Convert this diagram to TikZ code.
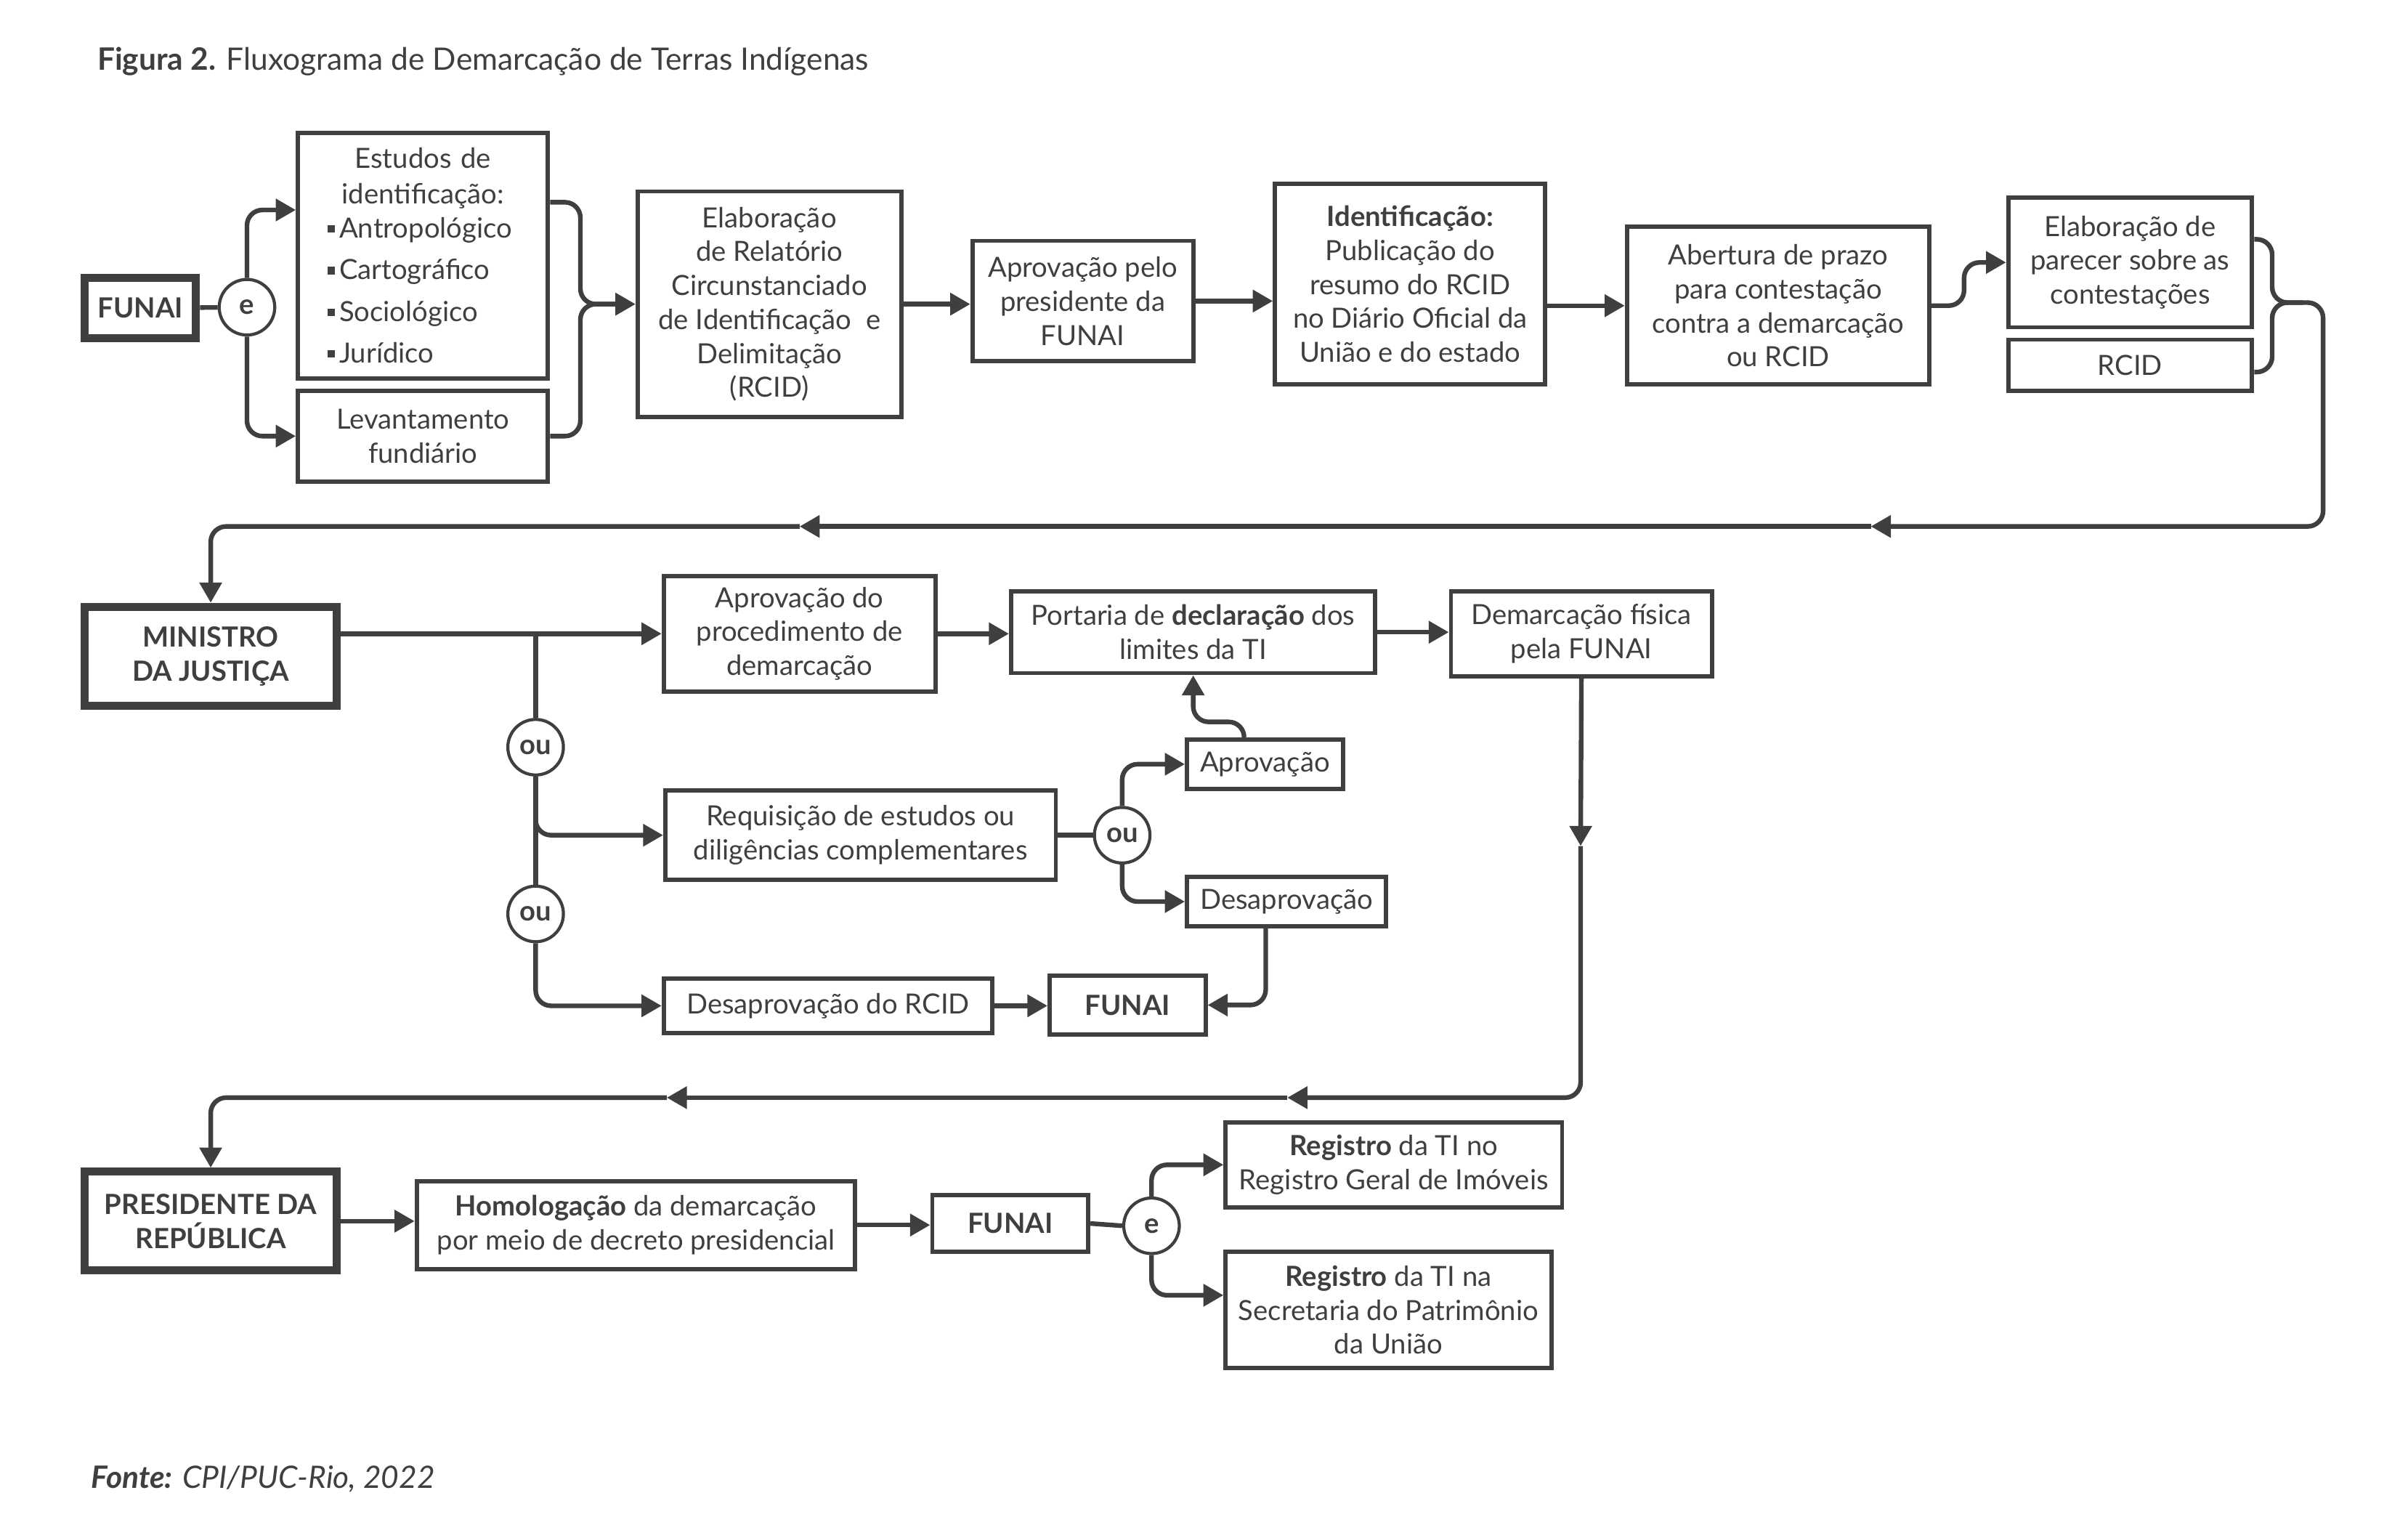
\documentclass[tikz,border=0pt]{standalone}
\usepackage{fontspec}
\setmainfont{Lato}
\usetikzlibrary{arrows.meta}
\definecolor{ink}{RGB}{62,64,64}
\newcommand{\tibul}{\raisebox{1.7pt}{\rule{2.4pt}{2.4pt}}\,}

\begin{document}
\begin{tikzpicture}[x=0.5pt, y=-0.5pt, >={Triangle[length=6.5pt,width=7pt]},
    every node/.style={text=ink, font=\fontsize{9}{11}\selectfont},
    box/.style={draw=ink, line width=1.4pt, align=center, inner sep=1pt},
    bigbox/.style={box, line width=2.6pt, font=\fontsize{9}{11}\selectfont\bfseries},
    gate/.style={draw=ink, line width=1pt, circle, minimum size=18pt, inner sep=0pt, font=\fontsize{9}{11}\selectfont\bfseries},
    conn/.style={draw=ink, line width=1.5pt, rounded corners=5pt},
    arr/.style={conn, ->}]
    \useasboundingbox (0,0) rectangle (1560,991);
    \node[anchor=west, font=\fontsize{10}{12}\selectfont] (title) at (56,40) {\textbf{Figura 2.} Fluxograma de Demarcação de Terras Indígenas};

    % first row
    \node[bigbox, minimum width=36pt, minimum height=19.5pt] (funai1) at (91,199.5) {FUNAI};
    \node[gate] (e1) at (160,199) {e};
    \node[box, minimum width=81pt, minimum height=79.5pt, text width=62pt, align=left] (estudos) at (274,165.5)
        {{\centering Estudos de\\[0.5pt]identificação:\par}\mbox{\tibul Antropológico}\\[2.5pt]\mbox{\tibul Cartográfico}\\[2.5pt]\mbox{\tibul Sociológico}\\[2.5pt]\mbox{\tibul Jurídico}};
    \node[box, minimum width=81pt, minimum height=29.5pt] (lev) at (274,282.5) {Levantamento\\fundiário};
    \node[box, minimum width=85.5pt, minimum height=73pt] (rcid) at (498.5,197)
        {Elaboração\\de Relatório\\Circunstanciado\\de Identificação\ \ e\\Delimitação\\(RCID)};
    \node[box, minimum width=71.5pt, minimum height=39pt] (aprov) at (701.5,195) {Aprovação pelo\\presidente da\\FUNAI};
    \node[box, minimum width=87.5pt, minimum height=65pt] (ident) at (913.5,184)
        {\textbf{Identificação:}\\Publicação do\\resumo do RCID\\no Diário Oficial da\\União e do estado};
    \node[box, minimum width=98pt, minimum height=51pt] (abert) at (1152,198)
        {Abertura de prazo\\para contestação\\contra a demarcação\\ou RCID};
    \node[box, minimum width=79pt, minimum height=42pt] (parecer) at (1380,170) {Elaboração de\\parecer sobre as\\contestações};
    \node[box, minimum width=79pt, minimum height=16.5pt] (rcid2) at (1380,236.5) {RCID};

    \coordinate (m1) at (376,197);
    \coordinate (m2) at (1472,196);
    \coordinate (c1) at (1505,341);
    \coordinate (a1) at (1212,341);
    \coordinate (a2) at (518,341);

    \draw[conn] (funai1) -- (e1);
    \draw[arr] (e1.north) |- ([yshift=14.75pt]estudos.west);
    \draw[arr] (e1.south) |- (lev.west);
    \draw[arr] ([yshift=17.25pt]estudos.east) -| (m1) -- (rcid.west);
    \draw[arr] (lev.east) -| (m1) -- (rcid.west);
    \draw[arr] (rcid.east) -- (rcid.east -| aprov.west);
    \draw[arr] (aprov.east) -- (aprov.east -| ident.west);
    \draw[arr] (ident.east |- abert.west) -- (abert.west);
    \draw[arr] (abert.east) -- ++(21,0) |- (parecer.west);
    \draw[arr] ([yshift=7.5pt]parecer.east) -| (m2) -| (c1) -- (a1);
    \draw[conn] ([yshift=-2.25pt]rcid2.east) -| (m2) -- ++(20,0);
    \draw[arr] (a1) -- (a2);

    % second row
    \node[bigbox, minimum width=81.5pt, minimum height=32pt] (ministro) at (136.5,425) {MINISTRO\\DA JUSTIÇA};
    \node[box, minimum width=88pt, minimum height=37.5pt] (aprovproc) at (518,410.5) {Aprovação do\\procedimento de\\demarcação};
    \node[box, minimum width=118pt, minimum height=26.5pt] (portaria) at (773,409.5) {Portaria de \textbf{declaração} dos\\limites da TI};
    \node[box, minimum width=84.5pt, minimum height=27.5pt] (demfis) at (1024.5,410.5) {Demarcação física\\pela FUNAI};
    \node[gate] (ou1) at (347,484) {ou};
    \node[gate] (ou2) at (347,592) {ou};
    \node[box, minimum width=126.5pt, minimum height=29pt] (req) at (557.5,541) {Requisição de estudos ou\\diligências complementares};
    \node[gate] (ou3) at (727,541) {ou};
    \node[box, minimum width=50.5pt, minimum height=16pt] (aprovsm) at (819.5,495) {Aprovação};
    \node[box, minimum width=64.5pt, minimum height=16pt] (desap) at (833.5,584) {Desaprovação};
    \node[box, minimum width=106.5pt, minimum height=17.5pt] (desrcid) at (536.5,651.5) {Desaprovação do RCID};
    \node[box, minimum width=50.5pt, minimum height=19pt, font=\fontsize{9}{11}\selectfont\bfseries] (funai2) at (730.5,651) {FUNAI};

    \coordinate (d1) at (1024,548);
    \coordinate (d2) at (834,711);
    \coordinate (d3) at (432,711);

    \draw[arr] (a2) -| (ministro.north);
    \draw[arr] (ministro.east |- aprovproc.west) -- (aprovproc.west);
    \draw[conn] (ou1.north) -- (ou1.north |- aprovproc.west);
    \draw[arr] (ou1.south) |- (req.west);
    \draw[conn] (ou1.south) -- (ou2.north);
    \draw[arr] (ou2.south) |- (desrcid.west);
    \draw[arr] (aprovproc.east) -- (aprovproc.east -| portaria.west);
    \draw[arr] (portaria.east) -- (portaria.east -| demfis.west);
    \draw[conn] (req.east) -- (ou3.west);
    \draw[arr] (ou3.north) |- (aprovsm.west);
    \draw[arr] ([xshift=-6.75pt]aprovsm.north) -- ++(0,-10) -| (portaria.south);
    \draw[arr] (ou3.south) |- (desap.west);
    \draw[arr] ([xshift=-6.75pt]desap.south) |- (funai2.east);
    \draw[arr] (desrcid.east) -- (desrcid.east -| funai2.west);
    \draw[arr] (demfis.south) -- (d1);
    \draw[arr] (d1) |- (d2);
    \draw[arr] (d2) -- (d3);

    % third row
    \node[bigbox, minimum width=81.5pt, minimum height=32pt] (presid) at (136.5,791) {PRESIDENTE DA\\REPÚBLICA};
    \node[box, minimum width=142pt, minimum height=28.5pt] (homol) at (412,793.5) {\textbf{Homologação} da demarcação\\por meio de decreto presidencial};
    \node[box, minimum width=50.5pt, minimum height=18.5pt, font=\fontsize{9}{11}\selectfont\bfseries] (funai3) at (654.5,792.5) {FUNAI};
    \node[gate] (e2) at (746,794) {e};
    \node[box, minimum width=109pt, minimum height=27.5pt] (reg1) at (903,754.5) {\textbf{Registro} da TI no\\Registro Geral de Imóveis};
    \node[box, minimum width=105.5pt, minimum height=37.5pt] (reg2) at (899.5,848.5) {\textbf{Registro} da TI na\\Secretaria do Patrimônio\\da União};

    \draw[arr] (d3) -| (presid.north);
    \draw[arr] (presid.east) -- (presid.east -| homol.west);
    \draw[arr] (homol.east) -- (homol.east -| funai3.west);
    \draw[conn] (funai3.east) -- (e2.west);
    \draw[arr] (e2.north) |- (reg1.west);
    \draw[arr] (e2.south) |- ([yshift=4.75pt]reg2.west);

    \node[anchor=west, font=\fontsize{10}{12}\selectfont\itshape] (fonte) at (52,958) {\textbf{Fonte:} CPI/PUC-Rio, 2022};
\end{tikzpicture}
\end{document}
